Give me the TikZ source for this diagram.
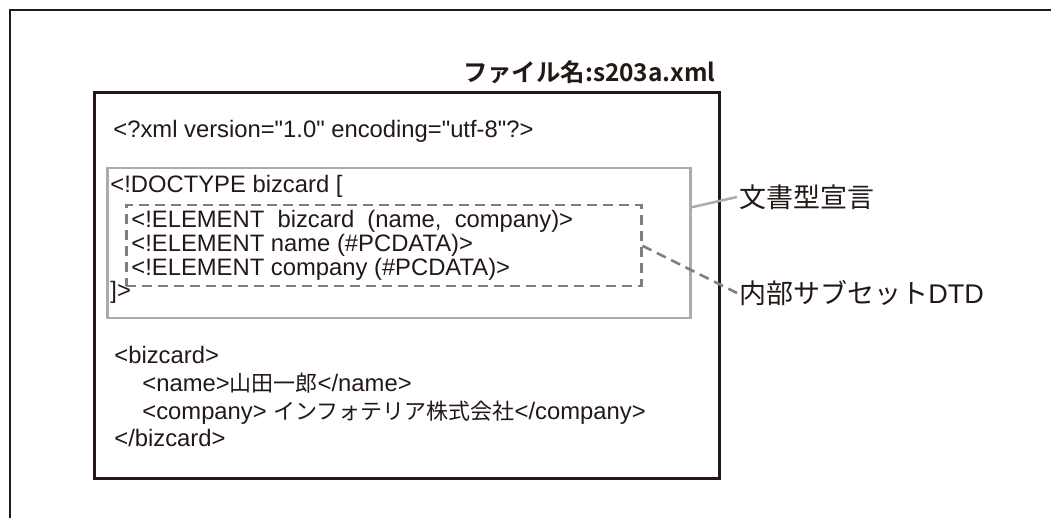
\documentclass[tikz,border=0pt]{standalone}
\usepackage{fontspec}
\setmainfont{Liberation Sans}
\newfontfamily\jpfont{Noto Sans CJK JP}
\newfontfamily\jpboldfont{Noto Sans CJK JP Bold}
\usetikzlibrary{positioning}
\definecolor{ink}{HTML}{231815}
\definecolor{declgray}{HTML}{ABABAB}
\definecolor{subsetgray}{HTML}{7F7F7F}
\newcommand{\jp}[1]{{\jpfont\fontsize{11}{12}\selectfont #1}}
\newcommand{\q}{\textquotedbl}

\begin{document}
\begin{tikzpicture}[
  x=0.5pt, y=-0.5pt,
  code/.style={anchor=base west, inner sep=0pt, text=ink, font=\fontsize{11.9}{14}\selectfont},
  callout/.style={anchor=west, inner sep=1pt, text=ink, font=\jpfont\fontsize{13.5}{15}\selectfont},
  box/.style={anchor=north west, inner sep=0pt, line width=1.25pt},
  dashline/.style={subsetgray, line width=1.25pt, dash pattern=on 5pt off 3pt}
]
\useasboundingbox (0,0) rectangle (1051,518);
% outer page frame
\draw[ink, line width=1pt] (1060,10) -- (10,10) -- (10,530);

\node[anchor=base east, inner sep=0pt, text=ink, font=\jpboldfont\fontsize{12.2}{14}\selectfont] (title) at (716,82) {ファイル名:s203a.xml};

\node[box, draw=ink, line width=1.5pt, minimum width=312.5pt, minimum height=193pt] (filebox) at (93,91) {};
\node[box, draw=declgray, minimum width=291.5pt, minimum height=75pt] (doctypebox) at (106,167) {};
\node[box, draw=subsetgray, dashline, minimum width=257.5pt, minimum height=40.5pt] (subsetbox) at (125,204) {};

\node[code] (xmldecl) at (113,138) {<?xml version=\q1.0\q{} encoding=\q utf-8\q?>};
\node[code] (doctypeopen) at (110,193) {<!DOCTYPE bizcard [};
\node[code] (elembizcard) at (131,228) {<!ELEMENT\ \ bizcard\ \ (name,\ \ company)>};
\node[code] (elemname) at (131,252) {<!ELEMENT name (\#PCDATA)>};
\node[code] (elemcompany) at (131,276) {<!ELEMENT company (\#PCDATA)>};
\node[code] (doctypeclose) at (110,299) {]>};

\node[code] (bizopen) at (114,364) {<bizcard>};
\node[code] (nameline) at (142,392) {<name>\jp{山田一郎}</name>};
\node[code] (companyline) at (142,420) {<company> \jp{インフォテリア株式会社}</company>};
\node[code] (bizclose) at (114,447) {</bizcard>};

% callouts
\node[callout] (decllabel) at (737,197) {文書型宣言};
\node[callout] (subsetlabel) at (737,293) {内部サブセット{\rmfamily DTD}};
\draw[declgray, line width=1.25pt] (doctypebox.7) -- (decllabel.west);
\draw[dashline] (subsetbox.east) -- (subsetlabel.west);
\end{tikzpicture}
\end{document}
